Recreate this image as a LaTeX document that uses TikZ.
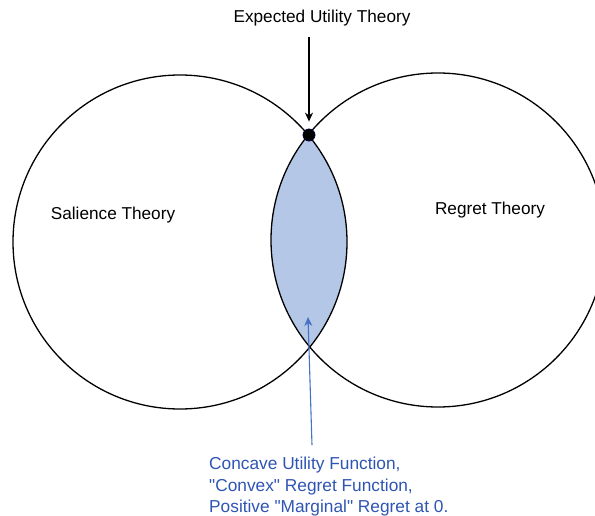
\documentclass[tikz,border=0pt]{standalone}
\usepackage{fontspec}
\setmainfont{Liberation Sans}
\definecolor{lensblue}{HTML}{B4C7E7}
\definecolor{noteblue}{HTML}{2F55B4}
\definecolor{arrowblue}{HTML}{4472C4}
\usetikzlibrary{arrows.meta,positioning}
\tikzset{
    theorycircle/.style={
        draw=black,
        circle,
        line width=1.3pt,
        minimum size=334pt,
        inner sep=0pt
    },
    theorylabel/.style={
        inner sep=0pt,
        font=\fontsize{17.2}{20}\selectfont
    },
    notelabel/.style={
        inner sep=0pt,
        align=left,
        text=noteblue,
        font=\fontsize{17.3}{21.5}\selectfont
    },
    eutdot/.style={
        circle,
        fill=black,
        draw=black!80!blue,
        line width=0.8pt,
        minimum size=12pt,
        inner sep=0pt
    },
    pointerarrow/.style={
        -{Stealth[length=9pt,width=8pt]},
        draw=black,
        line width=1.1pt
    },
    notearrow/.style={
        -{Stealth[length=9pt,width=8pt]},
        draw=arrowblue,
        line width=1.1pt
    }
}

\begin{document}
\begin{tikzpicture}[x=1pt,y=-1pt]
        \fill[white] (0,0) rectangle (595,516);
        \useasboundingbox (0,0) rectangle (595,516);

        % shared region of the two theories
        \begin{scope}
            \clip (180,242) circle (167pt);
            \fill[lensblue] (438,240) circle (167pt);
        \end{scope}

        \node[theorycircle] (salience) at (180,242) {};
        \node[theorycircle] (regret) at (438,240) {};

        \node[theorylabel] (saliencetext) at (113,215) {Salience Theory};
        \node[theorylabel] (regrettext) at (490,210) {Regret Theory};
        \node[theorylabel] (euttext) at (322,18) {Expected Utility Theory};

        \node[eutdot] (eut) at (309,135) {};
        \coordinate (eutstart) at (309,37);
        \draw[pointerarrow,shorten >=7pt] (eutstart) -- (eut.north);

        \node[notelabel,anchor=north west] (notetext) at (209,457)
            {Concave Utility Function,\\\textquotedbl Convex\textquotedbl{} Regret Function,\\
             Positive \textquotedbl Marginal\textquotedbl{} Regret at 0.};
        \coordinate (notestart) at (312,445);
        \coordinate (lenspoint) at (308,317);
        \draw[notearrow] (notestart) -- (lenspoint);
    \end{tikzpicture}
\end{document}
